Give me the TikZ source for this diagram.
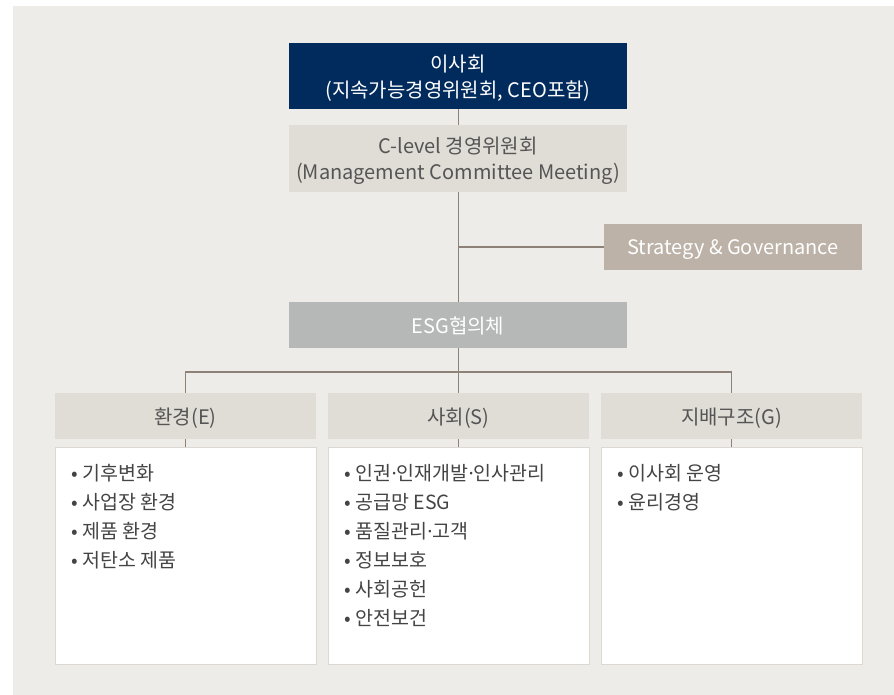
\documentclass[tikz,border=0pt]{standalone}
\usepackage{fontspec}
\setmainfont{Noto Sans CJK KR}
\newfontfamily\latinsans{Noto Sans}
\newcommand{\mdot}{{\latinsans ·}}
\definecolor{bgc}{HTML}{EEECE8}
\definecolor{navy}{HTML}{002B5C}
\definecolor{lightbox}{HTML}{E0DCD6}
\definecolor{stratc}{HTML}{BCB2A8}
\definecolor{esgc}{HTML}{B6B8B7}
\definecolor{linec}{HTML}{8E8278}
\definecolor{txtc}{HTML}{555555}
\definecolor{bultc}{HTML}{444444}
\definecolor{borderc}{HTML}{DDD8D2}
\tikzset{
  boxbase/.style={rectangle, inner sep=0pt, align=center, text depth=0pt, font=\fontsize{20}{26}\selectfont},
  topbox/.style={boxbase, fill=navy, text=white, minimum width=338pt, minimum height=66pt},
  midbox/.style={boxbase, fill=lightbox, text=txtc, minimum width=338pt, minimum height=67pt},
  stratbox/.style={boxbase, fill=stratc, text=white, minimum width=258pt, minimum height=46pt},
  esgbox/.style={boxbase, fill=esgc, text=white, minimum width=338pt, minimum height=46pt},
  headbox/.style={boxbase, fill=lightbox, text=txtc, minimum width=261pt, minimum height=46pt},
  contentbox/.style={rectangle, inner sep=0pt, fill=white, draw=borderc, line width=1pt, minimum width=261pt, minimum height=217pt},
  bullets/.style={anchor=north west, inner sep=0pt, align=left, text=bultc, font=\fontsize{19.5}{29}\selectfont},
  conn/.style={draw=linec, line width=1.5pt}
}
\begin{document}
\begin{tikzpicture}[x=1pt,y=-1pt]
\useasboundingbox (0,0) rectangle (894,695);
\fill[bgc] (13,6) rectangle (894,695);

\node[topbox] (board) at (458,76) {이사회\\(지속가능경영위원회, CEO포함)};
\node[midbox] (clevel) at (458,158.5) {C-level 경영위원회\\(Management Committee Meeting)};
\node[stratbox] (strat) at (733,247) {Strategy \& Governance};
\node[esgbox] (esg) at (458,325) {ESG협의체};

\node[headbox] (he) at (185.5,416) {환경(E)};
\node[headbox] (hs) at (458.5,416) {사회(S)};
\node[headbox] (hg) at (731.5,416) {지배구조(G)};

\node[contentbox] (ce) at (185.5,555.5) {};
\node[contentbox] (cs) at (458.5,555.5) {};
\node[contentbox] (cg) at (731.5,555.5) {};

\coordinate (jn) at (458.5,247);
\coordinate (br) at (458.5,372);

\draw[conn] (board.south -| jn) -- (clevel.north -| jn);
\draw[conn] (clevel.south -| jn) -- (esg.north -| jn);
\draw[conn] (jn) -- (strat.west);
\draw[conn] (esg.south -| br) -- (br);
\draw[conn] (he.north) |- (br) -| (hg.north);
\draw[conn] (br) -- (hs.north);
\draw[conn] (he.south) -- (ce.north);
\draw[conn] (hs.south) -- (cs.north);
\draw[conn] (hg.south) -- (cg.north);

\node[bullets] (le) at ([xshift=17pt,yshift=-18pt]ce.north west) {• 기후변화\\• 사업장 환경\\• 제품 환경\\• 저탄소 제품};
\node[bullets] (ls) at ([xshift=17pt,yshift=-18pt]cs.north west) {• 인권\mdot 인재개발\mdot 인사관리\\• 공급망 ESG\\• 품질관리\mdot 고객\\• 정보보호\\• 사회공헌\\• 안전보건};
\node[bullets] (lg) at ([xshift=17pt,yshift=-18pt]cg.north west) {• 이사회 운영\\• 윤리경영};
\end{tikzpicture}
\end{document}
